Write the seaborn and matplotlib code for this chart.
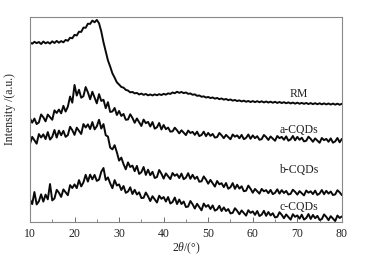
import numpy as np
import pandas as pd
import matplotlib
matplotlib.use("Agg")
import matplotlib.pyplot as plt
import seaborn as sns
from matplotlib.ticker import MultipleLocator

sns.set_theme(style="white")
plt.rcParams['font.family'] = ['Liberation Serif', 'DejaVu Serif']
plt.rcParams['mathtext.fontset'] = 'custom'
plt.rcParams['mathtext.rm'] = 'Liberation Serif'
plt.rcParams['mathtext.it'] = 'Liberation Serif:italic'

series_names = ["RM", "a-CQDs", "b-CQDs", "c-CQDs"]

rm = [179.5,178.2,180.1,178.8,179.9,177.9,180.4,178.6,179.8,178.3,180.6,178.9,181.0,179.2,180.8,179.6,
      182.0,181.1,184.2,183.6,187.1,186.4,190.2,190.0,194.3,194.1,198.2,198.0,201.3,199.6,202.0,198.6,
      190.5,179.6,170.4,161.5,155.4,148.6,144.3,139.6,137.4,135.0,134.3,132.1,131.4,129.6,130.0,128.6,
      129.0,127.5,128.4,127.1,128.0,126.6,127.5,126.5,127.6,126.7,127.8,126.9,128.1,127.3,128.6,128.0,
      129.5,128.7,130.2,129.1,130.0,128.8,129.5,128.1,128.5,127.2,127.6,126.1,126.5,125.2,125.6,124.4,
      125.0,123.9,124.5,123.3,124.0,122.8,123.5,122.3,123.0,121.8,122.5,121.3,122.0,120.9,121.6,120.5,
      121.3,120.2,121.0,119.9,120.9,119.8,120.8,119.7,120.7,119.5,120.5,119.4,120.3,119.2,120.2,119.0,
      120.0,118.9,119.8,118.7,119.6,118.5,119.4,118.3,119.3,118.2,119.1,118.1,119.0,117.9,118.9,117.8,
      118.8,117.7,118.7,117.6,118.6,117.5,118.5,117.4,118.4,117.3,118.3,117.2,118.2]

a_cqds = [103.6,99.3,103.4,97.9,99.6,107.5,104.7,100.6,107.4,104.8,102.2,111.6,109.0,112.4,108.6,116.1,
          110.4,115.3,125.4,119.3,137.0,126.4,132.2,124.2,125.8,134.9,129.6,122.7,130.2,124.4,118.6,127.8,
          121.0,122.2,113.8,119.8,110.0,110.5,114.0,107.0,111.0,106.0,108.0,102.2,102.5,107.7,104.0,99.2,
          103.5,99.7,96.0,102.4,98.8,100.1,95.5,99.9,93.3,94.7,99.0,92.5,97.0,92.8,94.4,90.4,
          90.6,94.3,91.7,88.6,91.7,89.3,86.9,91.4,89.0,90.1,87.1,90.3,85.9,87.0,90.3,85.8,
          89.1,86.1,88.0,84.4,84.9,89.0,86.7,83.8,87.1,84.9,82.7,87.5,85.3,86.6,83.7,87.1,
          82.8,84.1,87.5,83.2,86.6,83.8,85.8,82.2,82.9,87.0,84.9,82.0,85.5,83.3,81.2,86.0,
          83.8,85.1,82.2,85.6,81.3,82.6,86.0,81.7,85.1,82.2,84.2,80.6,81.2,85.3,83.1,80.2,
          83.6,81.4,79.2,84.0,81.8,83.1,80.2,83.6,79.3,80.6,84.0,79.7,83.1]

b_cqds = [78.1,85.1,81.7,78.3,87.9,84.5,87.6,82.9,89.9,82.4,85.2,92.0,84.4,91.4,86.7,91.1,
          85.1,86.9,95.2,91.8,87.1,94.3,91.2,88.0,97.9,94.5,97.6,92.9,99.9,92.6,95.7,102.2,
          93.4,97.9,86.8,85.4,74.4,72.6,76.8,69.7,61.4,64.4,57.8,52.7,59.6,55.0,56.4,50.8,
          56.1,48.1,49.8,55.0,47.1,52.3,46.8,50.2,44.0,45.0,52.0,48.3,43.4,48.6,45.8,42.9,
          49.0,46.2,47.8,44.0,48.4,42.8,44.4,48.8,43.2,47.2,43.1,45.3,40.3,40.7,45.6,42.4,
          38.3,42.1,38.8,35.4,41.0,37.7,38.8,34.9,39.0,33.3,34.8,38.9,33.2,37.3,33.4,35.7,
          30.8,31.3,36.4,33.3,29.3,33.1,30.8,28.4,33.1,30.7,31.9,28.8,32.1,27.9,29.2,32.7,
          28.4,31.9,29.0,31.1,27.5,28.2,32.3,30.2,27.4,30.9,28.7,26.6,31.5,29.3,30.7,27.9,
          31.4,27.1,28.5,32.0,27.8,31.2,28.4,30.5,27.0,27.6,31.8,29.7,26.9]

c_cqds = [22.6,17.9,30.0,17.6,20.7,27.7,20.4,27.4,22.7,38.0,21.6,23.6,32.2,29.3,25.1,32.6,
          29.7,26.8,36.9,34.0,37.6,33.9,41.9,35.6,39.7,47.2,40.4,47.4,42.7,47.1,41.1,42.4,
          50.2,54.0,42.0,44.6,38.7,33.8,41.9,36.5,37.6,32.0,36.0,29.2,30.5,34.7,28.0,32.2,
          27.5,29.7,24.0,24.2,29.5,25.7,21.0,25.8,22.7,19.5,26.3,23.2,25.0,20.5,25.0,18.5,
          20.0,24.5,18.0,22.5,18.0,20.5,15.0,15.5,21.0,17.7,13.5,18.2,15.0,11.7,18.5,15.2,
          17.0,13.0,16.6,11.4,12.6,16.2,11.0,14.6,11.0,13.0,8.6,9.2,13.8,11.2,7.8,11.6,
          9.0,6.4,11.8,9.2,10.6,7.2,11.0,6.0,7.4,11.2,6.2,10.0,6.6,8.8,4.6,5.2,
          9.8,7.2,3.8,7.6,5.0,2.4,7.8,5.2,6.6,3.4,7.3,2.5,4.0,8.0,3.1,7.1,
          3.8,6.2,2.1,2.9,7.6,5.2,1.9,5.9,3.4,1.0,6.5,4.1,5.6]

x_ticks = [10, 20, 30, 40, 50, 60, 70, 80]

frames = []
for name, vals in zip(series_names, [rm, a_cqds, b_cqds, c_cqds]):
    tt = np.linspace(10, 80, len(vals))
    frames.append(pd.DataFrame({"two_theta": tt, "intensity": vals, "sample": name}))
df = pd.concat(frames, ignore_index=True)

fig = plt.figure(figsize=(3.7, 2.6), dpi=100)
ax = fig.add_axes([0.081, 0.146, 0.843, 0.789])

sns.lineplot(data=df, x="two_theta", y="intensity", hue="sample", units="sample",
             estimator=None, palette=["#0a0a0a"] * 4, linewidth=1.4, legend=False, ax=ax)

label_y = [128, 92, 52, 15]
for name, yy in zip(series_names, label_y):
    ax.text(70.4, yy, name, fontsize=8.5, ha="center", va="center", color="#222222")

ax.set_xlim(10, 80)
ax.set_ylim(0, 205)
ax.set_xticks(x_ticks)
ax.xaxis.set_minor_locator(MultipleLocator(5))
ax.set_yticks([])
ax.tick_params(axis="x", which="major", direction="in", length=3.5, width=0.6,
               labelsize=8.5, pad=4, color="#555555", labelcolor="#222222", bottom=True)
ax.tick_params(axis="x", which="minor", direction="in", length=2, width=0.5,
               color="#555555", bottom=True)
ax.set_xlabel("2$\\mathit{\\theta}$/(°)", fontsize=8.5, labelpad=1, color="#222222")
ax.set_ylabel("Intensity /(a.u.)", fontsize=8.5, labelpad=6, color="#222222")
ax.yaxis.set_label_coords(-0.045, 0.55)
for s in ax.spines.values():
    s.set_color("#888888")
    s.set_linewidth(0.8)

fig.savefig("out.png", dpi=100)
